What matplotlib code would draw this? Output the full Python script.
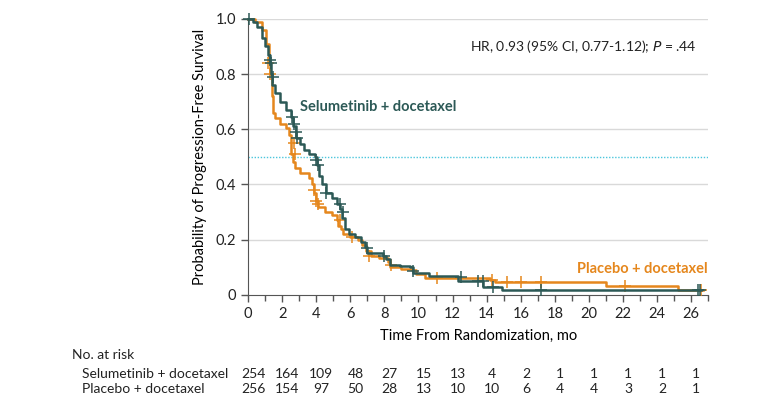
import matplotlib.pyplot as plt
from matplotlib.transforms import blended_transform_factory
from matplotlib.ticker import MultipleLocator

plt.rcParams['font.family'] = ['Liberation Sans Narrow', 'Lato', 'DejaVu Sans']

# step curves (time in months, survival)
selu_t = [0, 0.3, 0.5, 0.8, 1.0, 1.2, 1.3, 1.35, 1.4, 1.6, 1.9, 2.2, 2.5, 2.65, 2.8, 3.05, 3.3, 3.6, 3.9,
          4.05, 4.15, 4.35, 4.6, 4.9, 5.2, 5.4, 5.5, 5.7, 5.9, 6.3, 6.6, 6.85, 7.0, 7.9, 8.1, 8.35, 8.9,
          9.5, 9.7, 10.6, 12.3, 13.8, 14.9, 26.6]
selu_s = [1.0, 0.99, 0.97, 0.93, 0.90, 0.87, 0.84, 0.80, 0.76, 0.73, 0.70, 0.67, 0.645, 0.61, 0.57, 0.545,
          0.525, 0.51, 0.50, 0.47, 0.43, 0.40, 0.37, 0.35, 0.33, 0.31, 0.28, 0.24, 0.22, 0.21, 0.19, 0.175,
          0.15, 0.14, 0.13, 0.11, 0.105, 0.10, 0.08, 0.07, 0.05, 0.03, 0.018, 0.018]
plac_t = [0, 0.4, 0.8, 1.05, 1.25, 1.3, 1.4, 1.45, 1.6, 1.9, 2.2, 2.4, 2.5, 2.65, 2.75, 3.05, 3.6, 3.75,
          3.85, 4.0, 4.1, 4.5, 4.9, 5.2, 5.3, 5.45, 5.6, 6.0, 6.45, 6.7, 6.9, 7.2, 7.7, 8.2, 8.35, 9.0,
          9.6, 9.85, 10.4, 14.2, 14.5, 21.0, 25.2, 26.7]
plac_s = [1.0, 0.99, 0.96, 0.91, 0.84, 0.80, 0.72, 0.66, 0.64, 0.62, 0.605, 0.58, 0.51, 0.48, 0.46, 0.44,
          0.425, 0.40, 0.37, 0.34, 0.32, 0.30, 0.29, 0.27, 0.25, 0.24, 0.22, 0.21, 0.20, 0.18, 0.16, 0.14,
          0.135, 0.12, 0.10, 0.095, 0.09, 0.075, 0.06, 0.055, 0.046, 0.033, 0.018, 0.018]

# censor marks
selu_cens_t = [0.05, 1.3, 1.35, 1.45, 2.6, 2.7, 2.8, 2.9, 4.0, 4.1, 4.6, 5.4, 5.6, 7.0, 8.0, 9.7, 12.5,
               13.5, 13.8, 14.4, 17.2, 26.4, 26.5]
selu_cens_s = [1.0, 0.85, 0.84, 0.79, 0.645, 0.62, 0.59, 0.57, 0.49, 0.47, 0.37, 0.33, 0.30, 0.17, 0.14,
               0.085, 0.065, 0.05, 0.05, 0.03, 0.018, 0.018, 0.018]
plac_cens_t = [1.2, 1.3, 2.7, 2.75, 3.85, 4.0, 4.1, 5.4, 6.1, 7.1, 8.4, 11.1, 14.3, 15.2, 16.0, 17.2,
               22.1, 26.6]
plac_cens_s = [0.84, 0.80, 0.55, 0.51, 0.38, 0.34, 0.33, 0.27, 0.21, 0.14, 0.11, 0.06, 0.055, 0.046,
               0.046, 0.046, 0.033, 0.018]

risk_times = [0, 2, 4, 6, 8, 10, 12, 14, 16, 18, 20, 22, 24, 26]
selu_risk = [254, 164, 109, 48, 27, 15, 13, 4, 2, 1, 1, 1, 1, 1]
plac_risk = [256, 154, 97, 50, 28, 13, 10, 10, 6, 4, 4, 3, 2, 1]

teal = '#2c5956'
orange = '#e5871d'

fig = plt.figure(figsize=(7.8, 4.09), dpi=100)
ax = fig.add_axes([0.318, 0.279, 0.59, 0.675])

ax.step(plac_t, plac_s, where='post', color=orange, lw=1.8, clip_on=False, zorder=3)
ax.step(selu_t, selu_s, where='post', color=teal, lw=1.8, clip_on=False, zorder=4)
ax.plot(plac_cens_t, plac_cens_s, ls='none', marker='+', ms=9, mew=1.1, color=orange, clip_on=False, zorder=3)
ax.plot(selu_cens_t, selu_cens_s, ls='none', marker='+', ms=9, mew=1.1, color=teal, clip_on=False, zorder=4)

ax.axhline(0.5, color='#4cc6dc', lw=1, ls=(0, (1, 1.2)), zorder=2)
for g in [0.2, 0.4, 0.6, 0.8, 1.0]:
    ax.axhline(g, color='#d9d9d9', lw=1, zorder=1)

ax.set_xlim(0, 27)
ax.set_ylim(0, 1.0)
ax.xaxis.set_major_locator(MultipleLocator(2))
ax.xaxis.set_minor_locator(MultipleLocator(1))
ax.set_yticks([0, 0.2, 0.4, 0.6, 0.8, 1.0])
ax.set_yticklabels(['0', '0.2', '0.4', '0.6', '0.8', '1.0'])
ax.tick_params(axis='both', which='major', length=5, width=1, color='#555555', labelsize=10.5, colors='#222222')
ax.tick_params(axis='x', which='minor', length=4, width=1, color='#555555')
for sp in ['top', 'right']:
    ax.spines[sp].set_visible(False)
for sp in ['left', 'bottom']:
    ax.spines[sp].set_color('#555555')

ax.set_xlabel('Time From Randomization, mo', fontsize=10.5, labelpad=6)
ax.set_ylabel('Probability of Progression-Free Survival', fontsize=10.5, labelpad=6)

ax.text(26.3, 0.90, 'HR, 0.93 (95% CI, 0.77-1.12); $\\it{P}$ = .44', ha='right', va='center', fontsize=10, color='#222222')
ax.text(3.05, 0.68, 'Selumetinib + docetaxel', color=teal, fontsize=10.5, fontweight='bold', va='center')
ax.text(19.3, 0.095, 'Placebo + docetaxel', color=orange, fontsize=10.5, fontweight='bold', va='center')

# number at risk table
tr = blended_transform_factory(ax.transData, fig.transFigure)
fig.text(72 / 780, 1 - 355 / 409, 'No. at risk', fontsize=10, va='center', color='#222222')
fig.text(82 / 780, 1 - 374 / 409, 'Selumetinib + docetaxel', fontsize=10, va='center', color='#222222')
fig.text(82 / 780, 1 - 389 / 409, 'Placebo + docetaxel', fontsize=10, va='center', color='#222222')
for t, a, b in zip(risk_times, selu_risk, plac_risk):
    ax.text(t + 0.3, 1 - 374 / 409, str(a), transform=tr, ha='center', va='center', fontsize=10, color='#222222')
    ax.text(t + 0.3, 1 - 389 / 409, str(b), transform=tr, ha='center', va='center', fontsize=10, color='#222222')

fig.savefig('out.png', dpi=100)
